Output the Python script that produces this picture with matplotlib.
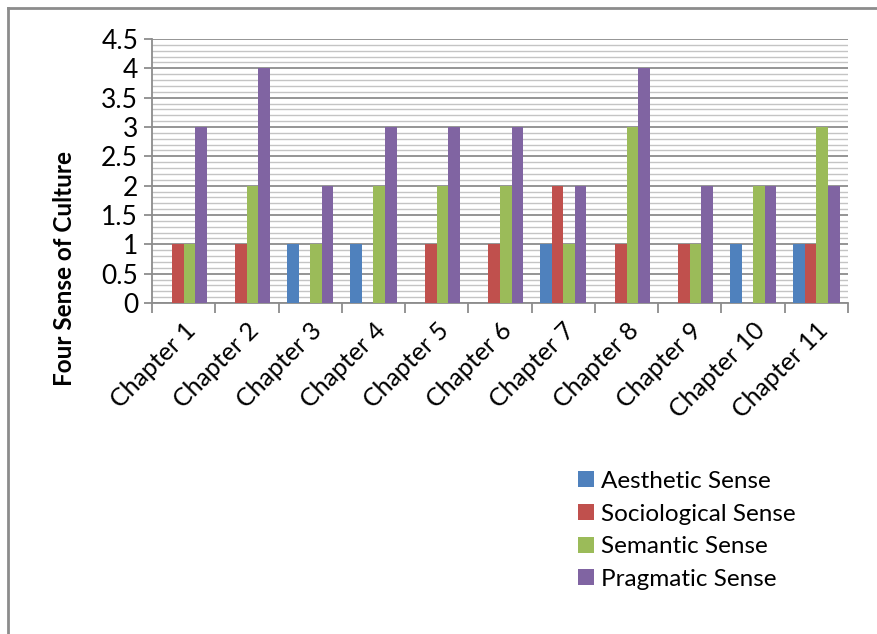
import numpy as np
import matplotlib.pyplot as plt
from matplotlib.lines import Line2D
from matplotlib.ticker import MultipleLocator, FuncFormatter

chapters = ["Chapter %d" % i for i in range(1, 12)]
series_names = ["Aesthetic Sense", "Sociological Sense", "Semantic Sense", "Pragmatic Sense"]
aesthetic = [0, 0, 1, 1, 0, 0, 1, 0, 0, 1, 1]
sociological = [1, 1, 0, 0, 1, 1, 2, 1, 1, 0, 1]
semantic = [1, 2, 1, 2, 2, 2, 1, 3, 1, 2, 3]
pragmatic = [3, 4, 2, 3, 3, 3, 2, 4, 2, 2, 2]
colors = ["#4F81BD", "#C0504D", "#9BBB59", "#8064A2"]

plt.rcParams['font.family'] = ['Lato', 'DejaVu Sans']

fig = plt.figure(figsize=(8.77, 6.34), dpi=100)
ax = fig.add_axes([152 / 877, 1 - 303 / 634, 696 / 877, 264 / 634])

x = np.arange(len(chapters))
bw = 0.183
for i, (vals, name) in enumerate(zip([aesthetic, sociological, semantic, pragmatic], series_names)):
    ax.bar(x + (i - 1.5) * bw, vals, width=bw, color=colors[i], label=name, zorder=3)

ax.set_xlim(-0.5, len(chapters) - 0.5)
ax.set_ylim(0, 4.5)
ax.yaxis.set_major_locator(MultipleLocator(0.5))
ax.yaxis.set_minor_locator(MultipleLocator(0.1))
ax.yaxis.set_major_formatter(FuncFormatter(lambda v, p: "%g" % round(v, 1)))
ax.grid(which='major', axis='y', color='#8c8c8c', linewidth=1.3, zorder=0)
ax.grid(which='minor', axis='y', color='#c4c4c4', linewidth=1.0, zorder=0)
ax.tick_params(axis='y', which='minor', length=0)
ax.tick_params(axis='y', which='major', length=6, color='#8c8c8c', width=1.3, labelsize=19, pad=4)

# category ticks sit between groups, labels at group centres
ax.set_xticks(np.arange(-0.5, len(chapters)), minor=False)
ax.set_xticklabels([])
ax.set_xticks(x, minor=True)
ax.set_xticklabels(chapters, minor=True, rotation=45, ha='right', rotation_mode='anchor', fontsize=18)
ax.tick_params(axis='x', which='major', length=7, color='#8c8c8c', width=1.3)
ax.tick_params(axis='x', which='minor', length=0, pad=11)

for side in ['top', 'right']:
    ax.spines[side].set_visible(False)
for side in ['left', 'bottom']:
    ax.spines[side].set_color('#8c8c8c')
    ax.spines[side].set_linewidth(1.3)

fig.text(65 / 877, 1 - 268 / 634, "Four Sense of Culture", rotation=90, fontsize=17.5,
         fontweight='bold', ha='center', va='center')

ax.legend(loc='upper left', bbox_to_anchor=(556 / 877, 1 - 449 / 634), bbox_transform=fig.transFigure,
          frameon=False, fontsize=17.5, handlelength=0.65, handleheight=0.65, handletextpad=0.3,
          labelspacing=0.48)

# chart-area outline (top and left edges)
fig.add_artist(Line2D([8 / 877, 1], [1 - 8 / 634, 1 - 8 / 634], color='#8c8c8c', linewidth=2))
fig.add_artist(Line2D([8 / 877, 8 / 877], [0, 1 - 8 / 634], color='#8c8c8c', linewidth=2))

fig.savefig("out.png", dpi=100)
